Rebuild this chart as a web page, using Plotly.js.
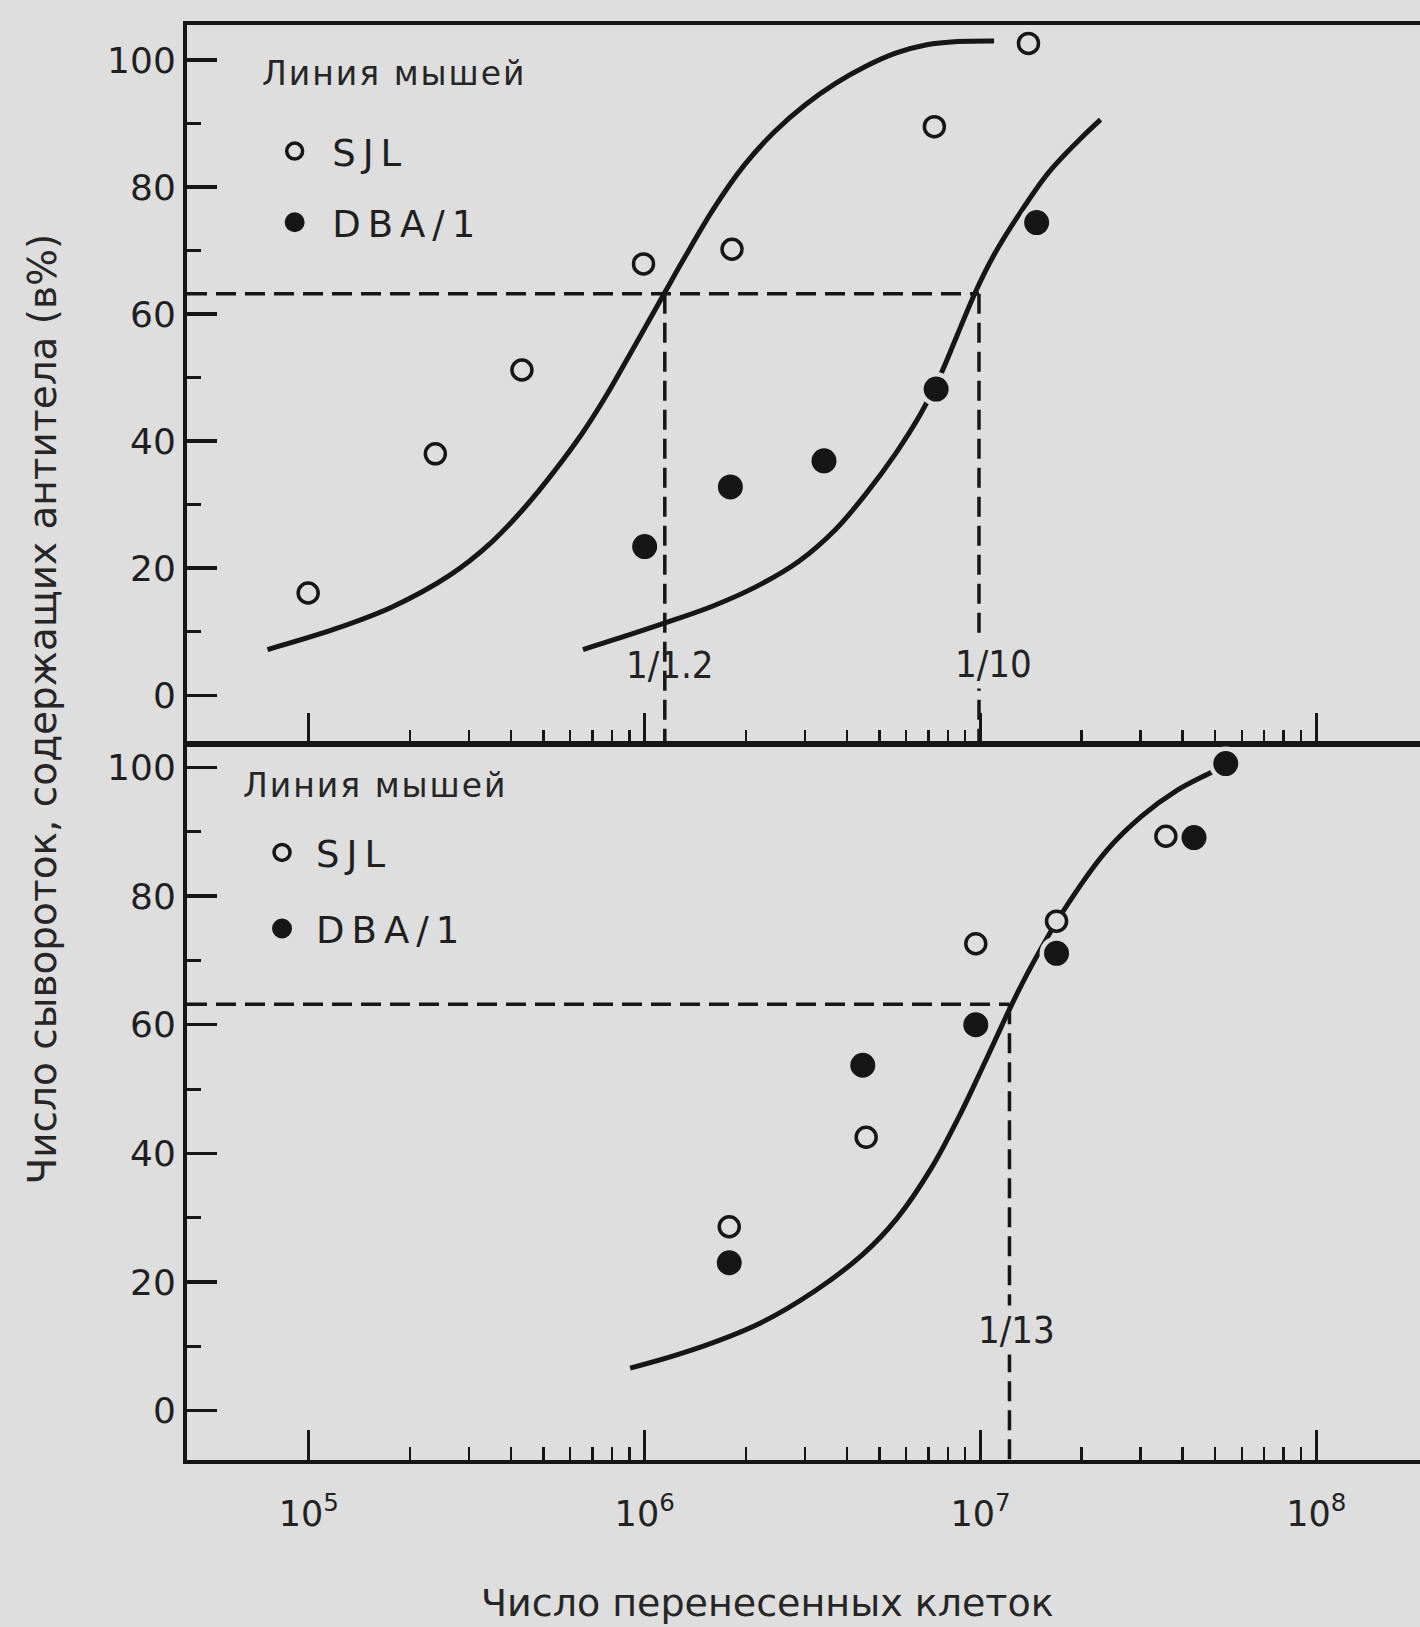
<!DOCTYPE html>
<html>
<head>
<meta charset="utf-8">
<script src="https://cdn.plot.ly/plotly-3.0.1.min.js"></script>
<style>
  html, body { margin: 0; padding: 0; background: #dedede; }
  text.legendtext, .infolayer [class*="legend"] text { letter-spacing: 7px; }
  g.annotation[data-index="0"] text, g.annotation[data-index="1"] text { letter-spacing: 2px; }
</style>
</head>
<body>
<div id="chart" style="width:1420px;height:1627px;"></div>
<script>
// ---------- data ----------
const xTickVals = [1e5, 1e6, 1e7, 1e8];
const xTickText = ['10<sup>5</sup>', '10<sup>6</sup>', '10<sup>7</sup>', '10<sup>8</sup>'];
const yTickVals = [0, 20, 40, 60, 80, 100];
const yMinorVals = [10, 30, 50, 70, 90];

// upper panel: points
const sjlTopX = [9.95e4, 2.38e5, 4.31e5, 9.92e5, 1.82e6, 7.29e6, 1.39e7];
const sjlTopY = [16.1, 38.0, 51.2, 67.9, 70.2, 89.5, 102.6];
const dbaTopX = [1.0e6, 1.80e6, 3.42e6, 7.38e6, 1.47e7];
const dbaTopY = [23.4, 32.8, 36.9, 48.2, 74.4];

// upper panel: fitted curves
const sjlTopCurveX = [7.53e4, 1.19e5, 1.77e5, 2.63e5, 3.47e5, 4.40e5, 5.37e5, 6.55e5, 7.67e5, 8.98e5,
  1.148e6, 1.302e6, 1.605e6, 1.977e6, 2.436e6, 3.003e6, 3.702e6, 4.558e6, 5.615e6, 6.921e6, 8.543e6, 1.098e7];
const sjlTopCurveY = [7.2, 10.4, 13.9, 18.9, 23.9, 29.6, 35.2, 41.4, 47.1, 53.4,
  63.4, 68.5, 76.6, 83.4, 88.7, 92.9, 96.3, 99.0, 101.1, 102.4, 102.9, 103.0];
const dbaTopCurveX = [6.55e5, 8.98e5, 1.197e6, 1.605e6, 2.149e6, 2.880e6, 3.702e6, 4.558e6, 5.615e6, 6.637e6,
  7.54e6, 8.543e6, 9.685e6, 1.097e7, 1.296e7, 1.597e7, 1.968e7, 2.278e7];
const dbaTopCurveY = [7.2, 9.5, 11.7, 14.1, 17.1, 21.1, 26.1, 31.7, 38.2, 44.3,
  50.0, 56.8, 63.6, 69.3, 75.5, 82.3, 87.4, 90.6];

const topLevel = 63.2;
const topCross = [1.148e6, 9.9e6];
const topCrossLabels = ['1/1.2', '1/10'];

// lower panel: points
const sjlBotX = [1.786e6, 4.567e6, 9.685e6, 1.685e7, 3.566e7];
const sjlBotY = [28.6, 42.5, 72.6, 76.1, 89.3];
const dbaBotX = [1.786e6, 4.462e6, 9.685e6, 1.685e7, 4.325e7, 5.377e7];
const dbaBotY = [23.0, 53.7, 60.0, 71.1, 89.1, 100.6];

// lower panel: fitted curve
const botCurveX = [9.05e5, 1.379e6, 2.206e6, 3.212e6, 4.462e6, 5.643e6, 7.14e6, 8.61e6, 9.92e6, 1.147e7,
  1.233e7, 1.424e7, 1.771e7, 2.368e7, 3.015e7, 3.838e7, 4.887e7, 5.384e7];
const botCurveY = [6.6, 9.4, 13.6, 18.6, 24.3, 29.9, 37.7, 45.6, 52.3, 59.4,
  62.9, 69.3, 77.8, 87.0, 92.4, 96.4, 99.3, 100.5];

const botLevel = 63.2;
const botCross = [1.22e7];
const botCrossLabels = ['1/13'];

const seriesNames = ['SJL', 'DBA/1'];
const legendTitle = 'Линия мышей';
const xTitle = 'Число перенесенных клеток';
const yTitle = 'Число сывороток, содержащих антитела (в%)';

// ---------- styling ----------
const BG = '#dedede';
const INK = '#161616';
const FONT = 'DejaVu Sans, sans-serif';
const NARROW = 'Liberation Sans Narrow, DejaVu Sans Condensed, sans-serif';
const xRange = [4.637, 8.309];
const yRangeTop = [-7.5, 105.5];
const yRangeBot = [-7.67, 103.5];

const minorX = [];
[1e5, 1e6, 1e7].forEach(d => { for (let k = 2; k <= 9; k++) minorX.push(k * d); });

function curve(x, y, xa, ya) {
  return { x: x, y: y, xaxis: xa, yaxis: ya, mode: 'lines', showlegend: false, hoverinfo: 'skip',
    line: { color: INK, width: 5, shape: 'spline', smoothing: 1 } };
}
function dashes(level, cross, yBottom, xa, ya) {
  const x = [Math.pow(10, xRange[0]), Math.max.apply(null, cross)];
  const y = [level, level];
  cross.forEach(c => { x.push(null, c, c); y.push(null, level, yBottom); });
  return { x: x, y: y, xaxis: xa, yaxis: ya, mode: 'lines', showlegend: false, hoverinfo: 'skip',
    connectgaps: false, line: { color: INK, width: 3.5, dash: '20px,9px' } };
}
function halo(x, y, xa, ya) {
  return { x: x, y: y, xaxis: xa, yaxis: ya, mode: 'markers', showlegend: false, hoverinfo: 'skip',
    marker: { symbol: 'circle', size: 34, color: BG, line: { width: 0 } } };
}
function openPts(x, y, xa, ya, lg) {
  return { x: x, y: y, xaxis: xa, yaxis: ya, mode: 'markers', name: seriesNames[0], legend: lg,
    legendgroup: lg + 'a', marker: { symbol: 'circle', size: 20, color: BG, line: { color: INK, width: 3.5 } } };
}
function fullPts(x, y, xa, ya, lg) {
  return { x: x, y: y, xaxis: xa, yaxis: ya, mode: 'markers', name: seriesNames[1], legend: lg,
    legendgroup: lg + 'b', marker: { symbol: 'circle', size: 21, color: INK, line: { color: INK, width: 4 } } };
}

const traces = [
  curve(sjlTopCurveX, sjlTopCurveY, 'x', 'y'),
  curve(dbaTopCurveX, dbaTopCurveY, 'x', 'y'),
  dashes(topLevel, topCross, yRangeTop[0], 'x', 'y'),
  halo(dbaTopX, dbaTopY, 'x', 'y'),
  openPts(sjlTopX, sjlTopY, 'x', 'y', 'legend'),
  fullPts(dbaTopX, dbaTopY, 'x', 'y', 'legend'),

  curve(botCurveX, botCurveY, 'x2', 'y2'),
  dashes(botLevel, botCross, yRangeBot[0], 'x2', 'y2'),
  halo(dbaBotX, dbaBotY, 'x2', 'y2'),
  openPts(sjlBotX, sjlBotY, 'x2', 'y2', 'legend2'),
  fullPts(dbaBotX, dbaBotY, 'x2', 'y2', 'legend2')
];

function xAxis(anchor, labels) {
  return {
    anchor: anchor, domain: [0, 1], type: 'log', range: xRange,
    showline: true, linewidth: 4, linecolor: INK, mirror: true,
    showgrid: false, zeroline: false, automargin: false,
    tickmode: 'array', tickvals: xTickVals, ticktext: xTickText,
    ticks: 'inside', ticklen: 30, tickwidth: 3, tickcolor: INK,
    showticklabels: labels, tickfont: { family: FONT, size: 35, color: '#222' },
    ticklabelstandoff: 20,
    minor: { tickmode: 'array', tickvals: minorX, ticks: 'inside', ticklen: 13, tickwidth: 2.5, tickcolor: INK, showgrid: false }
  };
}
function yAxis(anchor, domain, range) {
  return {
    anchor: anchor, domain: domain, range: range,
    showline: true, linewidth: 4, linecolor: INK, mirror: false,
    showgrid: false, zeroline: false, automargin: false,
    tickmode: 'array', tickvals: yTickVals,
    ticks: 'inside', ticklen: 30, tickwidth: 3.5, tickcolor: INK,
    tickfont: { family: FONT, size: 36, color: '#1f1f1f' },
    minor: { tickmode: 'array', tickvals: yMinorVals, ticks: 'inside', ticklen: 14, tickwidth: 3, tickcolor: INK, showgrid: false }
  };
}

const ann = [
  { text: legendTitle, xref: 'paper', yref: 'paper', x: 0.0681, y: 0.9665, xanchor: 'left', yanchor: 'middle',
    showarrow: false, font: { family: FONT, size: 33, color: '#262626' } },
  { text: legendTitle, xref: 'paper', yref: 'paper', x: 0.0527, y: 0.4697, xanchor: 'left', yanchor: 'middle',
    showarrow: false, font: { family: FONT, size: 33, color: '#262626' } },
  { text: yTitle, xref: 'paper', yref: 'paper', x: -0.1176, y: 0.5237, xanchor: 'center', yanchor: 'middle',
    textangle: -90, showarrow: false, font: { family: FONT, size: 39, color: '#262626' } },
  { text: xTitle, xref: 'paper', yref: 'paper', x: 0.4704, y: -0.0997, xanchor: 'center', yanchor: 'middle',
    showarrow: false, font: { family: FONT, size: 38, color: '#262626' } },
  { text: topCrossLabels[0], xref: 'x', yref: 'y', x: Math.log10(topCross[0]), y: 4.8, xshift: 5,
    showarrow: false, font: { family: NARROW, size: 38, color: '#222' } },
  { text: topCrossLabels[1], xref: 'x', yref: 'y', x: Math.log10(topCross[1]), y: 5.0, xshift: 15,
    showarrow: false, bgcolor: BG, borderpad: 2, font: { family: NARROW, size: 38, color: '#222' } },
  { text: botCrossLabels[0], xref: 'x2', yref: 'y2', x: Math.log10(botCross[0]), y: 12.5, xshift: 7,
    showarrow: false, bgcolor: BG, borderpad: 2, font: { family: NARROW, size: 38, color: '#222' } }
];

const legendBase = {
  xanchor: 'left', yanchor: 'top', bgcolor: 'rgba(0,0,0,0)', borderwidth: 0,
  font: { family: FONT, size: 37, color: '#1f1f1f' }, traceorder: 'grouped'
};

const layout = {
  width: 1420, height: 1627,
  margin: { l: 187, r: 0, t: 25, b: 167, pad: 0 },
  paper_bgcolor: BG, plot_bgcolor: BG,
  font: { family: FONT, color: '#222', size: 34 },
  showlegend: true,
  xaxis: xAxis('y', false),
  yaxis: yAxis('x', [0.4997, 1], yRangeTop),
  xaxis2: xAxis('y2', true),
  yaxis2: yAxis('x2', [0, 0.4983], yRangeBot),
  legend: Object.assign({}, legendBase, { x: 0.0569, y: 0.9334, itemwidth: 65, tracegroupgap: 20 }),
  legend2: Object.assign({}, legendBase, { x: 0.0495, y: 0.4447, itemwidth: 58, tracegroupgap: 25 }),
  annotations: ann
};

Plotly.newPlot('chart', traces, layout, { displayModeBar: false, staticPlot: true });
</script>
</body>
</html>
